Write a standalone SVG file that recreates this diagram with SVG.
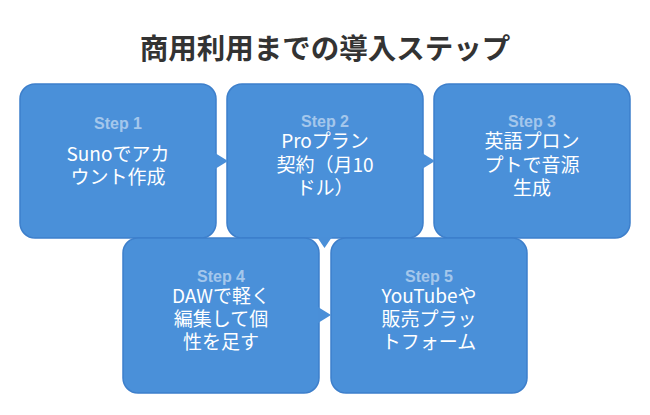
<svg xmlns="http://www.w3.org/2000/svg" width="650" height="415" viewBox="0 0 650 415">
<style>
.box{fill:#4A90D9;stroke:#3D7FCB;stroke-width:1.5}
.step{font-family:"Liberation Sans","Noto Sans CJK JP",sans-serif;font-weight:bold;font-size:16px;fill:#FFFFFF;fill-opacity:0.5;text-anchor:middle}
.txt{font-family:"Noto Sans CJK JP","Liberation Sans",sans-serif;font-size:19px;fill:#FFFFFF;text-anchor:middle}
.title{font-family:"Noto Sans CJK JP",sans-serif;font-weight:bold;font-size:28.5px;fill:#333333;text-anchor:middle}
.arr{fill:#4A8FD8}
</style>
<rect width="650" height="415" fill="#FFFFFF"/>
<text class="title" x="325" y="59">商用利用までの導入ステップ</text>
<g id="step1">
<rect class="box" x="20" y="84" width="196" height="154" rx="15"/>
<text class="step" x="118" y="129">Step 1</text>
<text class="txt" x="118" y="161">Sunoでアカ</text>
<text class="txt" x="118" y="184">ウント作成</text>
</g>
<g id="step2">
<rect class="box" x="227" y="84" width="196" height="154" rx="15"/>
<text class="step" x="325" y="127">Step 2</text>
<text class="txt" x="325" y="148">Proプラン</text>
<text class="txt" x="325" y="172">契約（月10</text>
<text class="txt" x="325" y="195">ドル）</text>
</g>
<g id="step3">
<rect class="box" x="434" y="84" width="196" height="154" rx="15"/>
<text class="step" x="532" y="127">Step 3</text>
<text class="txt" x="532" y="148">英語プロン</text>
<text class="txt" x="532" y="172">プトで音源</text>
<text class="txt" x="532" y="195">生成</text>
</g>
<g id="step4">
<rect class="box" x="123" y="238" width="196" height="155" rx="15"/>
<text class="step" x="221" y="282">Step 4</text>
<text class="txt" x="221" y="303">DAWで軽く</text>
<text class="txt" x="221" y="326">編集して個</text>
<text class="txt" x="221" y="349">性を足す</text>
</g>
<g id="step5">
<rect class="box" x="331" y="238" width="196" height="155" rx="15"/>
<text class="step" x="429" y="282">Step 5</text>
<text class="txt" x="429" y="303">YouTubeや</text>
<text class="txt" x="429" y="326">販売プラッ</text>
<text class="txt" x="429" y="349">トフォーム</text>
</g>
<g id="connectors">
<polygon class="arr" points="215,153 228,161 215,169"/>
<polygon class="arr" points="422,153 435,161 422,169"/>
<polygon class="arr" points="317,237 332,237 324.5,248"/>
<polygon class="arr" points="318,307 331,315 318,323"/>
</g>
</svg>
